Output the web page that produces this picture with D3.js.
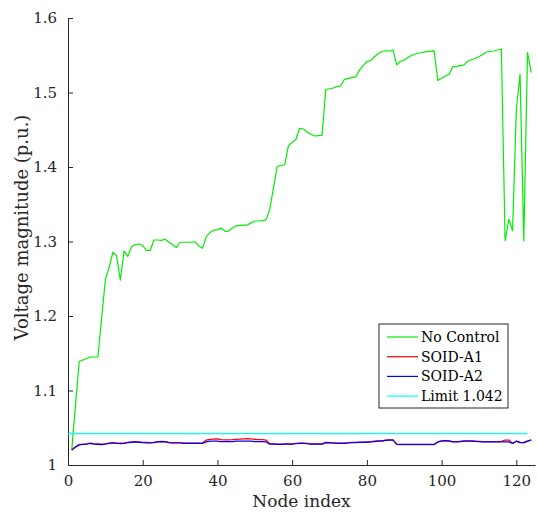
<!DOCTYPE html>
<html>
<head>
<meta charset="utf-8">
<script src="https://cdn.jsdelivr.net/npm/d3@7"></script>
<style>
  body { margin: 0; background: #fff; }
  svg { display: block; }
</style>
</head>
<body>
<svg id="chart" width="537" height="513"></svg>
<script>
// node index runs 1..124
const noControl = [
  1.020, 1.080, 1.139, 1.141, 1.143, 1.145, 1.145, 1.145, 1.197, 1.249,
  1.265, 1.2855, 1.281, 1.248, 1.287, 1.280, 1.293, 1.296, 1.2966, 1.2945,
  1.288, 1.288, 1.302, 1.302, 1.3016, 1.303, 1.299, 1.2955, 1.292, 1.299,
  1.299, 1.299, 1.299, 1.2997, 1.294, 1.291, 1.3065, 1.312, 1.315, 1.316,
  1.318, 1.3137, 1.314, 1.318, 1.321, 1.3217, 1.322, 1.322, 1.325, 1.3275,
  1.3275, 1.328, 1.329, 1.343, 1.372, 1.401, 1.402, 1.403, 1.4286, 1.433,
  1.437, 1.452, 1.451, 1.447, 1.444, 1.4416, 1.442, 1.4425, 1.504, 1.505,
  1.506, 1.508, 1.509, 1.5177, 1.519, 1.520, 1.521, 1.530, 1.536, 1.5413,
  1.5427, 1.548, 1.552, 1.555, 1.556, 1.5557, 1.557, 1.537, 1.542, 1.5436,
  1.547, 1.550, 1.5517, 1.553, 1.554, 1.5548, 1.5555, 1.556, 1.516, 1.519,
  1.522, 1.5244, 1.5346, 1.535, 1.536, 1.537, 1.542, 1.544, 1.546, 1.548,
  1.551, 1.5544, 1.555, 1.5557, 1.557, 1.5584, 1.301, 1.330, 1.3145, 1.4765,
  1.5248, 1.3007, 1.5535, 1.5266
];

const soidA1 = [
  1.0205, 1.0245, 1.0275, 1.028, 1.0285, 1.0295, 1.0285, 1.0283, 1.028, 1.0285,
  1.0295, 1.030, 1.0295, 1.0293, 1.0295, 1.0305, 1.031, 1.0315, 1.031, 1.0305,
  1.0303, 1.030, 1.0305, 1.0315, 1.0318, 1.0315, 1.0305, 1.030, 1.030, 1.030,
  1.0295, 1.0295, 1.0295, 1.0295, 1.0295, 1.0295, 1.0335, 1.0345, 1.0348, 1.035,
  1.034, 1.0338, 1.0338, 1.034, 1.0345, 1.0348, 1.035, 1.0353, 1.035, 1.0345,
  1.034, 1.034, 1.0335, 1.0285, 1.0283, 1.028, 1.028, 1.0283, 1.0283, 1.0283,
  1.029, 1.0293, 1.0293, 1.029, 1.0283, 1.0283, 1.0283, 1.0283, 1.0303, 1.030,
  1.0298, 1.0293, 1.0293, 1.0293, 1.030, 1.0303, 1.0305, 1.0308, 1.0308, 1.031,
  1.0313, 1.032, 1.0323, 1.0325, 1.0333, 1.0338, 1.0338, 1.0275, 1.0273, 1.0273,
  1.0272, 1.0272, 1.0272, 1.0272, 1.0272, 1.0272, 1.0272, 1.0273, 1.031, 1.0323,
  1.0328, 1.0323, 1.0313, 1.0313, 1.0318, 1.0323, 1.0325, 1.0325, 1.032, 1.0318,
  1.0313, 1.0313, 1.0313, 1.0313, 1.0315, 1.0318, 1.0335, 1.0335, 1.029, 1.032,
  1.0303, 1.030, 1.032, 1.0338
];

const soidA2 = [
  1.020, 1.024, 1.027, 1.0275, 1.028, 1.029, 1.028, 1.0278, 1.0273, 1.028,
  1.029, 1.0295, 1.029, 1.0288, 1.029, 1.030, 1.0305, 1.031, 1.0305, 1.030,
  1.0298, 1.0295, 1.030, 1.031, 1.0313, 1.031, 1.030, 1.0295, 1.0295, 1.0295,
  1.029, 1.029, 1.029, 1.029, 1.029, 1.029, 1.031, 1.032, 1.032, 1.032,
  1.0315, 1.0313, 1.0313, 1.0315, 1.032, 1.032, 1.032, 1.032, 1.032, 1.0315,
  1.0313, 1.0313, 1.031, 1.028, 1.028, 1.0278, 1.0278, 1.028, 1.028, 1.028,
  1.0285, 1.029, 1.029, 1.0285, 1.028, 1.028, 1.028, 1.028, 1.030, 1.0298,
  1.0295, 1.029, 1.029, 1.029, 1.0295, 1.030, 1.030, 1.0303, 1.0303, 1.0304,
  1.031, 1.0315, 1.032, 1.032, 1.033, 1.0335, 1.0335, 1.028, 1.0278, 1.0278,
  1.0277, 1.0277, 1.0277, 1.0277, 1.0277, 1.0277, 1.0277, 1.0277, 1.031, 1.032,
  1.0326, 1.032, 1.031, 1.031, 1.0315, 1.032, 1.032, 1.032, 1.0318, 1.0315,
  1.031, 1.031, 1.031, 1.031, 1.031, 1.031, 1.031, 1.031, 1.029, 1.032,
  1.030, 1.030, 1.032, 1.0335
];

const limitValue = 1.042;
const limitNodes = [0, 123];

const xTicks = [0, 20, 40, 60, 80, 100, 120];
const yTicks = [1, 1.1, 1.2, 1.3, 1.4, 1.5, 1.6];

const seriesNames = ['No Control', 'SOID-A1', 'SOID-A2', 'Limit 1.042'];
const seriesColors = ['#00ee00', '#ff0000', '#0000ff', '#00ffff'];

const margin = { left: 68, right: 2, top: 18, bottom: 48 };
const size = { width: 537, height: 513 };
const axisColor = '#262626';
const fontFamily = 'DejaVu Serif';

const svg = d3.select('#chart');

const x = d3.scaleLinear()
    .domain([0, 125])
    .range([margin.left, size.width - margin.right]);

const y = d3.scaleLinear()
    .domain([1, 1.6])
    .range([size.height - margin.bottom, margin.top]);

// axes, ticks pointing inward
const xAxis = svg.append('g')
    .attr('transform', `translate(0, ${y(1)})`)
    .call(d3.axisBottom(x).tickValues(xTicks).tickSizeInner(-5).tickSizeOuter(0).tickPadding(10));

const yAxis = svg.append('g')
    .attr('transform', `translate(${x(0)}, 0)`)
    .call(d3.axisLeft(y).tickValues(yTicks).tickFormat(d3.format('~g')).tickSizeInner(-5).tickSizeOuter(0).tickPadding(11));

[xAxis, yAxis].forEach(a => {
    a.attr('font-family', fontFamily).attr('font-size', 15);
    a.select('.domain').attr('stroke', axisColor);
    a.selectAll('.tick line').attr('stroke', axisColor);
    a.selectAll('.tick text').attr('fill', axisColor);
});

// axis labels
svg.append('text')
    .attr('x', (x(0) + x(125)) / 2)
    .attr('y', 507)
    .attr('text-anchor', 'middle')
    .attr('fill', axisColor)
    .attr('font-family', fontFamily)
    .attr('font-size', 17)
    .text('Node index');

svg.append('text')
    .attr('transform', `translate(28, ${(y(1) + y(1.6)) / 2 - 14}) rotate(-90)`)
    .attr('text-anchor', 'middle')
    .attr('fill', axisColor)
    .attr('font-family', fontFamily)
    .attr('font-size', 18)
    .text('Voltage magnitude (p.u.)');

// lines
const line = d3.line()
    .x((d, i) => x(i + 1))
    .y(d => y(d));

[noControl, soidA1, soidA2].forEach((s, i) => {
    svg.append('path')
        .datum(s)
        .attr('fill', 'none')
        .attr('stroke', seriesColors[i])
        .attr('stroke-width', 1.2)
        .attr('stroke-linejoin', 'round')
        .attr('d', line);
});

svg.append('line')
    .attr('x1', x(limitNodes[0]))
    .attr('x2', x(limitNodes[1]))
    .attr('y1', y(limitValue))
    .attr('y2', y(limitValue))
    .attr('stroke', seriesColors[3])
    .attr('stroke-width', 1.2);

// legend
const legend = svg.append('g')
    .attr('transform', 'translate(379, 324)');

legend.append('rect')
    .attr('width', 129)
    .attr('height', 84)
    .attr('fill', '#fff')
    .attr('stroke', axisColor)
    .attr('stroke-width', 1);

seriesNames.forEach((name, i) => {
    const ly = 13 + i * 19.7;
    legend.append('line')
        .attr('x1', 8)
        .attr('x2', 39)
        .attr('y1', ly)
        .attr('y2', ly)
        .attr('stroke', seriesColors[i])
        .attr('stroke-width', 1.2);
    legend.append('text')
        .attr('x', 42)
        .attr('y', ly)
        .attr('dy', '0.35em')
        .attr('fill', '#000')
        .attr('font-family', fontFamily)
        .attr('font-size', 14)
        .text(name);
});
</script>
</body>
</html>
